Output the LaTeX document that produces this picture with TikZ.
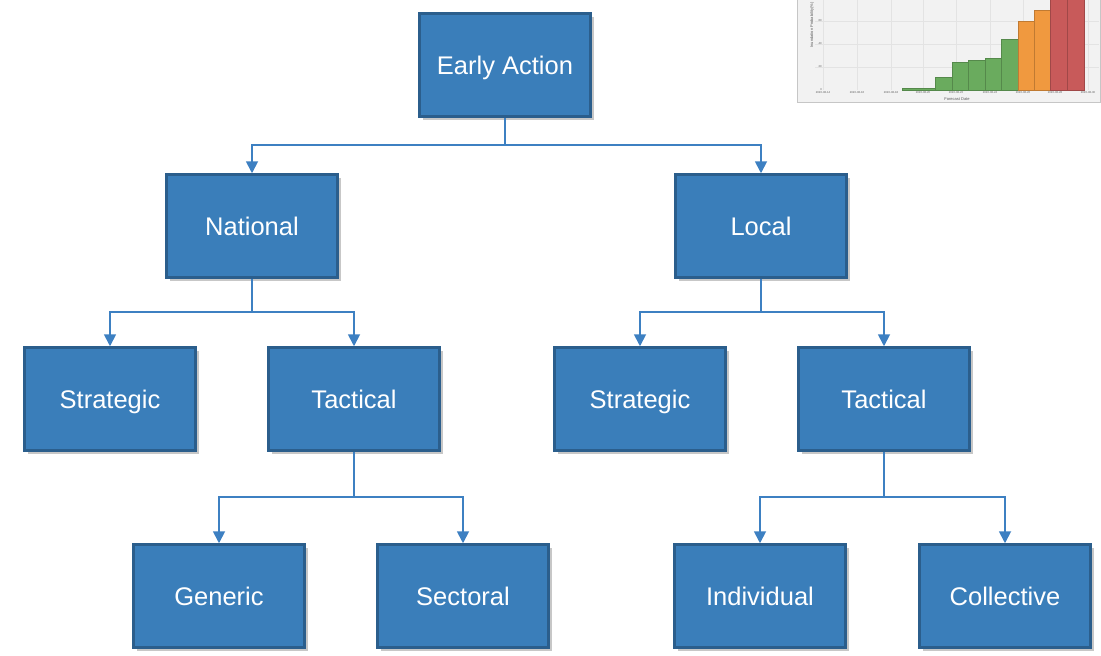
\documentclass[tikz,border=0pt]{standalone}
\usepackage{fontspec}
\setmainfont{Liberation Sans}
\usetikzlibrary{arrows.meta,shadows}
\definecolor{boxblue}{HTML}{3A7EBA}
\definecolor{boxedge}{HTML}{2B5E8C}
\definecolor{linkblue}{HTML}{3D80C2}
\definecolor{bargreen}{HTML}{6AAB5E}
\definecolor{barorange}{HTML}{F0993F}
\definecolor{barred}{HTML}{C85A5A}
\begin{document}
\begin{tikzpicture}[x=1pt, y=-1pt,
	box/.style={draw=boxedge, line width=2.5pt, fill=boxblue, minimum width=171pt, minimum height=103pt,
		text=white, font=\fontsize{25.5}{30}\selectfont, text height=18pt, text depth=0pt,
		drop shadow={shadow xshift=3pt, shadow yshift=-3pt, fill=black, opacity=0.22}},
	link/.style={linkblue, line width=1.8pt, -{Triangle[width=12pt,length=12pt]}}]
	\useasboundingbox (0,0) rectangle (1101,656);

%chart (top right)
	\begin{scope}
		\clip (797,0) rectangle (1101,103);
		\fill[gray!10] (797,0) rectangle (1101,103);
		\draw[gray!45, line width=1pt] (797,-2) rectangle (1100.5,102.5);
		\foreach \x in {823,857,891,923,956,990,1023,1055,1088}{
			\draw[gray!22, line width=0.5pt] (\x, 0) -- (\x, 90);
		}
		\foreach \y in {21,44,67}{
			\draw[gray!22, line width=0.5pt] (815, \y) -- (1099, \y);
		}
		\foreach \a/\b/\t/\c in {902/935/88/bargreen, 935/952/77/bargreen, 952/968/62/bargreen, 968/985/60/bargreen,
			985/1001/58/bargreen, 1001/1018/39/bargreen, 1018/1034/21/barorange, 1034/1050/10/barorange,
			1050/1067/-2/barred, 1067/1084/-2/barred}{
			\filldraw[fill=\c, draw=\c!80!black, line width=0.3pt] (\a, 90) rectangle (\b, \t);
		}
		\foreach \x/\d in {823/14,857/16,891/18,923/20,956/22,990/24,1023/26,1055/28,1088/30}{
			\node[font=\fontsize{2.8}{3}\selectfont, gray!70!black] at (\x, 92.5) {2020-08-\d};
		}
		\foreach \y/\v in {90/0,67/20,44/40,21/60}{
			\node[font=\fontsize{2.8}{3}\selectfont, gray!70!black, left, inner sep=1pt] at (823, \y) {\v};
		}
		\node[font=\fontsize{4}{4}\selectfont, gray!70!black] at (957, 99) {Forecast Date};
		\node[font=\fontsize{4}{4}\selectfont, gray!70!black, rotate=90] at (812, 25) {Inundation Probability(\%)};
	\end{scope}

%boxes
	\foreach \xy/\name/\txt in {{(505,65)/ea/Early Action},{(252,226)/nat/National},{(761,226)/loc/Local},
		{(110,399)/natstr/Strategic},{(354,399)/nattac/Tactical},{(640,399)/locstr/Strategic},{(884,399)/loctac/Tactical},
		{(219,596)/gen/Generic},{(463,596)/sec/Sectoral},{(760,596)/ind/Individual},{(1005,596)/col/Collective}}{
		\node[box] (\name) at \xy {\txt};
	}

%links
	\draw[link] (ea.south) -- (ea.south |- 0,145) -| (nat.north);
	\draw[link] (ea.south) -- (ea.south |- 0,145) -| (loc.north);
	\draw[link] (nat.south) -- (nat.south |- 0,312) -| (natstr.north);
	\draw[link] (nat.south) -- (nat.south |- 0,312) -| (nattac.north);
	\draw[link] (loc.south) -- (loc.south |- 0,312) -| (locstr.north);
	\draw[link] (loc.south) -- (loc.south |- 0,312) -| (loctac.north);
	\draw[link] (nattac.south) -- (nattac.south |- 0,497) -| (gen.north);
	\draw[link] (nattac.south) -- (nattac.south |- 0,497) -| (sec.north);
	\draw[link] (loctac.south) -- (loctac.south |- 0,497) -| (ind.north);
	\draw[link] (loctac.south) -- (loctac.south |- 0,497) -| (col.north);
\end{tikzpicture}
\end{document}
